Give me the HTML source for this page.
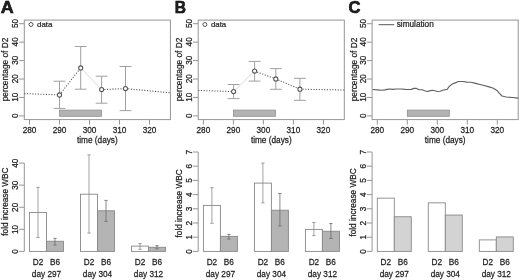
<!DOCTYPE html>
<html><head><meta charset="utf-8"><style>
html,body{margin:0;padding:0;background:#fff;}
body{width:520px;height:280px;overflow:hidden;}
svg{display:block;will-change:transform;}
text{font-family:"Liberation Sans",sans-serif;font-size:8.25px;fill:#222;stroke:#222;stroke-width:0.22px;}
</style></head><body>
<svg width="520" height="280" viewBox="0 0 520 280">
<rect width="520" height="280" fill="#fff"/>
<rect x="24.3" y="20.1" width="146.1" height="99.5" fill="none" stroke="#959595" stroke-width="1"/>
<line x1="29.5" y1="119.6" x2="29.5" y2="124.6" stroke="#959595"/>
<text transform="translate(29.5 132.9) scale(1 1.15)" text-anchor="middle">280</text>
<line x1="59.5" y1="119.6" x2="59.5" y2="124.6" stroke="#959595"/>
<text transform="translate(59.5 132.9) scale(1 1.15)" text-anchor="middle">290</text>
<line x1="89.5" y1="119.6" x2="89.5" y2="124.6" stroke="#959595"/>
<text transform="translate(89.5 132.9) scale(1 1.15)" text-anchor="middle">300</text>
<line x1="119.5" y1="119.6" x2="119.5" y2="124.6" stroke="#959595"/>
<text transform="translate(119.5 132.9) scale(1 1.15)" text-anchor="middle">310</text>
<line x1="149.5" y1="119.6" x2="149.5" y2="124.6" stroke="#959595"/>
<text transform="translate(149.5 132.9) scale(1 1.15)" text-anchor="middle">320</text>
<line x1="24.3" y1="115.9" x2="19.1" y2="115.9" stroke="#959595"/>
<text transform="translate(17.8 115.6) rotate(-90) scale(1 1.19)" text-anchor="middle">0</text>
<line x1="24.3" y1="97.46" x2="19.1" y2="97.46" stroke="#959595"/>
<text transform="translate(17.8 97.16) rotate(-90) scale(1 1.19)" text-anchor="middle">10</text>
<line x1="24.3" y1="79.02" x2="19.1" y2="79.02" stroke="#959595"/>
<text transform="translate(17.8 78.72) rotate(-90) scale(1 1.19)" text-anchor="middle">20</text>
<line x1="24.3" y1="60.58" x2="19.1" y2="60.58" stroke="#959595"/>
<text transform="translate(17.8 60.28) rotate(-90) scale(1 1.19)" text-anchor="middle">30</text>
<line x1="24.3" y1="42.14" x2="19.1" y2="42.14" stroke="#959595"/>
<text transform="translate(17.8 41.84) rotate(-90) scale(1 1.19)" text-anchor="middle">40</text>
<line x1="24.3" y1="23.7" x2="19.1" y2="23.7" stroke="#959595"/>
<text transform="translate(17.8 23.4) rotate(-90) scale(1 1.19)" text-anchor="middle">50</text>
<text transform="translate(7.5 69.5) rotate(-90) scale(1 1.19)" text-anchor="middle" style="font-size:8.3px">percentage of D2</text>
<text transform="translate(97.35 143.1) scale(1 1.15)" text-anchor="middle">time (days)</text>
<text transform="translate(0.8 12.7) scale(1.08 1)" style="font-weight:bold;font-size:16.6px;stroke:#000;stroke-width:0.55px">A</text>
<rect x="59.5" y="110.1" width="42" height="6.2" fill="#b3b3b3" stroke="#8f8f8f" stroke-width="0.8"/>
<line x1="59.5" y1="81.2" x2="59.5" y2="108.4" stroke="#a0a0a0" stroke-width="1"/>
<line x1="53.6" y1="81.2" x2="65.4" y2="81.2" stroke="#a0a0a0" stroke-width="1"/>
<line x1="53.6" y1="108.4" x2="65.4" y2="108.4" stroke="#a0a0a0" stroke-width="1"/>
<line x1="80.7" y1="46.5" x2="80.7" y2="89.2" stroke="#a0a0a0" stroke-width="1"/>
<line x1="74.8" y1="46.5" x2="86.6" y2="46.5" stroke="#a0a0a0" stroke-width="1"/>
<line x1="74.8" y1="89.2" x2="86.6" y2="89.2" stroke="#a0a0a0" stroke-width="1"/>
<line x1="101.6" y1="76.2" x2="101.6" y2="103.2" stroke="#a0a0a0" stroke-width="1"/>
<line x1="95.7" y1="76.2" x2="107.5" y2="76.2" stroke="#a0a0a0" stroke-width="1"/>
<line x1="95.7" y1="103.2" x2="107.5" y2="103.2" stroke="#a0a0a0" stroke-width="1"/>
<line x1="125.5" y1="66.5" x2="125.5" y2="110.6" stroke="#a0a0a0" stroke-width="1"/>
<line x1="119.6" y1="66.5" x2="131.4" y2="66.5" stroke="#a0a0a0" stroke-width="1"/>
<line x1="119.6" y1="110.6" x2="131.4" y2="110.6" stroke="#a0a0a0" stroke-width="1"/>
<line x1="24.3" y1="93.6" x2="59.5" y2="94.9" stroke="#525252" stroke-width="1.05" stroke-dasharray="1.1 1.6"/>
<line x1="59.5" y1="94.9" x2="80.7" y2="67.9" stroke="#525252" stroke-width="1.05" stroke-dasharray="1.1 1.6"/>
<line x1="80.7" y1="67.9" x2="101.6" y2="89.6" stroke="#dadada" stroke-width="1"/>
<line x1="101.6" y1="89.6" x2="125.5" y2="88.6" stroke="#525252" stroke-width="1.05" stroke-dasharray="1.1 1.6"/>
<line x1="125.5" y1="88.6" x2="170.4" y2="92.8" stroke="#525252" stroke-width="1.05" stroke-dasharray="1.1 1.6"/>
<circle cx="59.5" cy="94.9" r="2.05" fill="#fff" stroke="#555" stroke-width="1.05"/>
<circle cx="80.7" cy="67.9" r="2.05" fill="#fff" stroke="#555" stroke-width="1.05"/>
<circle cx="101.6" cy="89.6" r="2.05" fill="#fff" stroke="#555" stroke-width="1.05"/>
<circle cx="125.5" cy="88.6" r="2.05" fill="#fff" stroke="#555" stroke-width="1.05"/>
<circle cx="31" cy="24.5" r="2.0" fill="none" stroke="#555" stroke-width="1"/>
<text transform="translate(37 27.1) scale(1 0.97)" text-anchor="start" style="font-size:7.9px">data</text>
<rect x="198.2" y="20.1" width="146.1" height="99.5" fill="none" stroke="#959595" stroke-width="1"/>
<line x1="203.4" y1="119.6" x2="203.4" y2="124.6" stroke="#959595"/>
<text transform="translate(203.4 132.9) scale(1 1.15)" text-anchor="middle">280</text>
<line x1="233.4" y1="119.6" x2="233.4" y2="124.6" stroke="#959595"/>
<text transform="translate(233.4 132.9) scale(1 1.15)" text-anchor="middle">290</text>
<line x1="263.4" y1="119.6" x2="263.4" y2="124.6" stroke="#959595"/>
<text transform="translate(263.4 132.9) scale(1 1.15)" text-anchor="middle">300</text>
<line x1="293.4" y1="119.6" x2="293.4" y2="124.6" stroke="#959595"/>
<text transform="translate(293.4 132.9) scale(1 1.15)" text-anchor="middle">310</text>
<line x1="323.4" y1="119.6" x2="323.4" y2="124.6" stroke="#959595"/>
<text transform="translate(323.4 132.9) scale(1 1.15)" text-anchor="middle">320</text>
<line x1="198.2" y1="115.9" x2="193" y2="115.9" stroke="#959595"/>
<text transform="translate(191.7 115.6) rotate(-90) scale(1 1.19)" text-anchor="middle">0</text>
<line x1="198.2" y1="97.46" x2="193" y2="97.46" stroke="#959595"/>
<text transform="translate(191.7 97.16) rotate(-90) scale(1 1.19)" text-anchor="middle">10</text>
<line x1="198.2" y1="79.02" x2="193" y2="79.02" stroke="#959595"/>
<text transform="translate(191.7 78.72) rotate(-90) scale(1 1.19)" text-anchor="middle">20</text>
<line x1="198.2" y1="60.58" x2="193" y2="60.58" stroke="#959595"/>
<text transform="translate(191.7 60.28) rotate(-90) scale(1 1.19)" text-anchor="middle">30</text>
<line x1="198.2" y1="42.14" x2="193" y2="42.14" stroke="#959595"/>
<text transform="translate(191.7 41.84) rotate(-90) scale(1 1.19)" text-anchor="middle">40</text>
<line x1="198.2" y1="23.7" x2="193" y2="23.7" stroke="#959595"/>
<text transform="translate(191.7 23.4) rotate(-90) scale(1 1.19)" text-anchor="middle">50</text>
<text transform="translate(182.4 69.5) rotate(-90) scale(1 1.19)" text-anchor="middle" style="font-size:8.3px">percentage of D2</text>
<text transform="translate(271.25 143.1) scale(1 1.15)" text-anchor="middle">time (days)</text>
<text transform="translate(174.8 12.7) scale(0.94 1)" style="font-weight:bold;font-size:16.6px;stroke:#000;stroke-width:0.55px">B</text>
<rect x="233.4" y="110.1" width="42" height="6.2" fill="#b3b3b3" stroke="#8f8f8f" stroke-width="0.8"/>
<line x1="233.6" y1="84.5" x2="233.6" y2="98.6" stroke="#a0a0a0" stroke-width="1"/>
<line x1="227.7" y1="84.5" x2="239.5" y2="84.5" stroke="#a0a0a0" stroke-width="1"/>
<line x1="227.7" y1="98.6" x2="239.5" y2="98.6" stroke="#a0a0a0" stroke-width="1"/>
<line x1="254.6" y1="61.4" x2="254.6" y2="81.1" stroke="#a0a0a0" stroke-width="1"/>
<line x1="248.7" y1="61.4" x2="260.5" y2="61.4" stroke="#a0a0a0" stroke-width="1"/>
<line x1="248.7" y1="81.1" x2="260.5" y2="81.1" stroke="#a0a0a0" stroke-width="1"/>
<line x1="275.8" y1="68.6" x2="275.8" y2="89.3" stroke="#a0a0a0" stroke-width="1"/>
<line x1="269.9" y1="68.6" x2="281.7" y2="68.6" stroke="#a0a0a0" stroke-width="1"/>
<line x1="269.9" y1="89.3" x2="281.7" y2="89.3" stroke="#a0a0a0" stroke-width="1"/>
<line x1="299.9" y1="78.3" x2="299.9" y2="100.3" stroke="#a0a0a0" stroke-width="1"/>
<line x1="294" y1="78.3" x2="305.8" y2="78.3" stroke="#a0a0a0" stroke-width="1"/>
<line x1="294" y1="100.3" x2="305.8" y2="100.3" stroke="#a0a0a0" stroke-width="1"/>
<line x1="198.2" y1="90.4" x2="233.6" y2="91.6" stroke="#525252" stroke-width="1.05" stroke-dasharray="1.1 1.6"/>
<line x1="233.6" y1="91.6" x2="254.6" y2="71.1" stroke="#dadada" stroke-width="1"/>
<line x1="254.6" y1="71.1" x2="275.8" y2="78.9" stroke="#525252" stroke-width="1.05" stroke-dasharray="1.1 1.6"/>
<line x1="275.8" y1="78.9" x2="299.9" y2="89.2" stroke="#525252" stroke-width="1.05" stroke-dasharray="1.1 1.6"/>
<line x1="299.9" y1="89.2" x2="344.3" y2="90" stroke="#525252" stroke-width="1.05" stroke-dasharray="1.1 1.6"/>
<circle cx="233.6" cy="91.6" r="2.05" fill="#fff" stroke="#555" stroke-width="1.05"/>
<circle cx="254.6" cy="71.1" r="2.05" fill="#fff" stroke="#555" stroke-width="1.05"/>
<circle cx="275.8" cy="78.9" r="2.05" fill="#fff" stroke="#555" stroke-width="1.05"/>
<circle cx="299.9" cy="89.2" r="2.05" fill="#fff" stroke="#555" stroke-width="1.05"/>
<circle cx="204.9" cy="24.5" r="2.0" fill="none" stroke="#555" stroke-width="1"/>
<text transform="translate(210.9 27.1) scale(1 0.97)" text-anchor="start" style="font-size:7.9px">data</text>
<rect x="372.1" y="20.1" width="146.1" height="99.5" fill="none" stroke="#959595" stroke-width="1"/>
<line x1="377.3" y1="119.6" x2="377.3" y2="124.6" stroke="#959595"/>
<text transform="translate(377.3 132.9) scale(1 1.15)" text-anchor="middle">280</text>
<line x1="407.3" y1="119.6" x2="407.3" y2="124.6" stroke="#959595"/>
<text transform="translate(407.3 132.9) scale(1 1.15)" text-anchor="middle">290</text>
<line x1="437.3" y1="119.6" x2="437.3" y2="124.6" stroke="#959595"/>
<text transform="translate(437.3 132.9) scale(1 1.15)" text-anchor="middle">300</text>
<line x1="467.3" y1="119.6" x2="467.3" y2="124.6" stroke="#959595"/>
<text transform="translate(467.3 132.9) scale(1 1.15)" text-anchor="middle">310</text>
<line x1="497.3" y1="119.6" x2="497.3" y2="124.6" stroke="#959595"/>
<text transform="translate(497.3 132.9) scale(1 1.15)" text-anchor="middle">320</text>
<line x1="372.1" y1="115.9" x2="366.9" y2="115.9" stroke="#959595"/>
<text transform="translate(365.6 115.6) rotate(-90) scale(1 1.19)" text-anchor="middle">0</text>
<line x1="372.1" y1="97.46" x2="366.9" y2="97.46" stroke="#959595"/>
<text transform="translate(365.6 97.16) rotate(-90) scale(1 1.19)" text-anchor="middle">10</text>
<line x1="372.1" y1="79.02" x2="366.9" y2="79.02" stroke="#959595"/>
<text transform="translate(365.6 78.72) rotate(-90) scale(1 1.19)" text-anchor="middle">20</text>
<line x1="372.1" y1="60.58" x2="366.9" y2="60.58" stroke="#959595"/>
<text transform="translate(365.6 60.28) rotate(-90) scale(1 1.19)" text-anchor="middle">30</text>
<line x1="372.1" y1="42.14" x2="366.9" y2="42.14" stroke="#959595"/>
<text transform="translate(365.6 41.84) rotate(-90) scale(1 1.19)" text-anchor="middle">40</text>
<line x1="372.1" y1="23.7" x2="366.9" y2="23.7" stroke="#959595"/>
<text transform="translate(365.6 23.4) rotate(-90) scale(1 1.19)" text-anchor="middle">50</text>
<text transform="translate(356.5 69.5) rotate(-90) scale(1 1.19)" text-anchor="middle" style="font-size:8.3px">percentage of D2</text>
<text transform="translate(445.15 143.1) scale(1 1.15)" text-anchor="middle">time (days)</text>
<text transform="translate(348.4 12.7) scale(1.0 1)" style="font-weight:bold;font-size:16.6px;stroke:#000;stroke-width:0.55px">C</text>
<rect x="407.3" y="110.1" width="42" height="6.2" fill="#b3b3b3" stroke="#8f8f8f" stroke-width="0.8"/>
<polyline fill="none" stroke="#606060" stroke-width="1.15" stroke-linejoin="round" points="372.6,89.5 377.7,89.9 381.5,90.3 385,89.9 386.9,89.4 390,89 393.1,89.4 396.2,89 400.8,89 405.4,89.4 407.7,89.5 411.5,89.4 413.8,88.4 416.5,88.4 419.2,89.7 422.3,89.7 424.6,90.7 427.3,91.5 429.6,90.9 432.3,90.2 434.6,90.7 437.7,91.5 440,91.3 443.8,90 447.3,89.2 449.2,86.5 451.5,84.6 454.6,83.1 458.5,81.5 463.1,81.5 466.9,82.1 470.8,82.3 474.6,83.1 480,84.5 483.1,85.3 488.3,86.6 493.4,88.3 496.9,90.4 499.4,93.4 502,96 506.3,97 512.3,97.5 518.2,98.1"/>
<line x1="378.7" y1="24.7" x2="394.2" y2="24.7" stroke="#555" stroke-width="1"/>
<text transform="translate(396.7 26.9) scale(1 1.05)" text-anchor="start">simulation</text>
<line x1="24.3" y1="251.4" x2="24.3" y2="163.08" stroke="#959595"/>
<line x1="24.3" y1="251.4" x2="19" y2="251.4" stroke="#959595"/>
<text transform="translate(17.8 251.5) rotate(-90) scale(1 1.19)" text-anchor="middle">0</text>
<line x1="24.3" y1="229.32" x2="19" y2="229.32" stroke="#959595"/>
<text transform="translate(17.8 229.42) rotate(-90) scale(1 1.19)" text-anchor="middle">10</text>
<line x1="24.3" y1="207.24" x2="19" y2="207.24" stroke="#959595"/>
<text transform="translate(17.8 207.34) rotate(-90) scale(1 1.19)" text-anchor="middle">20</text>
<line x1="24.3" y1="185.16" x2="19" y2="185.16" stroke="#959595"/>
<text transform="translate(17.8 185.26) rotate(-90) scale(1 1.19)" text-anchor="middle">30</text>
<line x1="24.3" y1="163.08" x2="19" y2="163.08" stroke="#959595"/>
<text transform="translate(17.8 163.18) rotate(-90) scale(1 1.19)" text-anchor="middle">40</text>
<text transform="translate(8 201.6) rotate(-90) scale(1 1.19)" text-anchor="middle">fold increase WBC</text>
<rect x="29.5" y="212.54" width="17" height="38.86" fill="#ffffff" stroke="#888" stroke-width="0.9"/>
<rect x="46.5" y="241.24" width="17" height="10.16" fill="#b4b4b4" stroke="#888" stroke-width="0.9"/>
<text transform="translate(38 264.7) scale(1 1.15)" text-anchor="middle">D2</text>
<text transform="translate(55 264.7) scale(1 1.15)" text-anchor="middle">B6</text>
<text transform="translate(46.5 276.9) scale(1 1.15)" text-anchor="middle">day 297</text>
<rect x="80.5" y="194.21" width="17" height="57.19" fill="#ffffff" stroke="#888" stroke-width="0.9"/>
<rect x="97.5" y="210.77" width="17" height="40.63" fill="#b4b4b4" stroke="#888" stroke-width="0.9"/>
<text transform="translate(89 264.7) scale(1 1.15)" text-anchor="middle">D2</text>
<text transform="translate(106 264.7) scale(1 1.15)" text-anchor="middle">B6</text>
<text transform="translate(97.5 276.9) scale(1 1.15)" text-anchor="middle">day 304</text>
<rect x="131.5" y="246.1" width="17" height="5.3" fill="#ffffff" stroke="#888" stroke-width="0.9"/>
<rect x="148.5" y="247.29" width="17" height="4.11" fill="#b4b4b4" stroke="#888" stroke-width="0.9"/>
<text transform="translate(140 264.7) scale(1 1.15)" text-anchor="middle">D2</text>
<text transform="translate(157 264.7) scale(1 1.15)" text-anchor="middle">B6</text>
<text transform="translate(148.5 276.9) scale(1 1.15)" text-anchor="middle">day 312</text>
<line x1="38" y1="187.37" x2="38" y2="237.49" stroke="#8c8c8c" stroke-width="0.8"/>
<line x1="36.3" y1="187.37" x2="39.7" y2="187.37" stroke="#8c8c8c" stroke-width="0.8"/>
<line x1="36.3" y1="237.49" x2="39.7" y2="237.49" stroke="#8c8c8c" stroke-width="0.8"/>
<line x1="55" y1="238.37" x2="55" y2="245" stroke="#6c6c6c" stroke-width="0.8"/>
<line x1="53.3" y1="238.37" x2="56.7" y2="238.37" stroke="#6c6c6c" stroke-width="0.8"/>
<line x1="53.3" y1="245" x2="56.7" y2="245" stroke="#6c6c6c" stroke-width="0.8"/>
<line x1="89" y1="154.91" x2="89" y2="233.07" stroke="#8c8c8c" stroke-width="0.8"/>
<line x1="87.3" y1="154.91" x2="90.7" y2="154.91" stroke="#8c8c8c" stroke-width="0.8"/>
<line x1="87.3" y1="233.07" x2="90.7" y2="233.07" stroke="#8c8c8c" stroke-width="0.8"/>
<line x1="106" y1="200.4" x2="106" y2="221.37" stroke="#6c6c6c" stroke-width="0.8"/>
<line x1="104.3" y1="200.4" x2="107.7" y2="200.4" stroke="#6c6c6c" stroke-width="0.8"/>
<line x1="104.3" y1="221.37" x2="107.7" y2="221.37" stroke="#6c6c6c" stroke-width="0.8"/>
<line x1="140" y1="243.45" x2="140" y2="249.3" stroke="#8c8c8c" stroke-width="0.8"/>
<line x1="138.3" y1="243.45" x2="141.7" y2="243.45" stroke="#8c8c8c" stroke-width="0.8"/>
<line x1="138.3" y1="249.3" x2="141.7" y2="249.3" stroke="#8c8c8c" stroke-width="0.8"/>
<line x1="157" y1="245.66" x2="157" y2="248.75" stroke="#6c6c6c" stroke-width="0.8"/>
<line x1="155.3" y1="245.66" x2="158.7" y2="245.66" stroke="#6c6c6c" stroke-width="0.8"/>
<line x1="155.3" y1="248.75" x2="158.7" y2="248.75" stroke="#6c6c6c" stroke-width="0.8"/>
<line x1="198.2" y1="251.4" x2="198.2" y2="152" stroke="#959595"/>
<line x1="198.2" y1="251.4" x2="192.9" y2="251.4" stroke="#959595"/>
<text transform="translate(191.7 251.5) rotate(-90) scale(1 1.19)" text-anchor="middle">0</text>
<line x1="198.2" y1="237.2" x2="192.9" y2="237.2" stroke="#959595"/>
<text transform="translate(191.7 237.3) rotate(-90) scale(1 1.19)" text-anchor="middle">1</text>
<line x1="198.2" y1="223" x2="192.9" y2="223" stroke="#959595"/>
<text transform="translate(191.7 223.1) rotate(-90) scale(1 1.19)" text-anchor="middle">2</text>
<line x1="198.2" y1="208.8" x2="192.9" y2="208.8" stroke="#959595"/>
<text transform="translate(191.7 208.9) rotate(-90) scale(1 1.19)" text-anchor="middle">3</text>
<line x1="198.2" y1="194.6" x2="192.9" y2="194.6" stroke="#959595"/>
<text transform="translate(191.7 194.7) rotate(-90) scale(1 1.19)" text-anchor="middle">4</text>
<line x1="198.2" y1="180.4" x2="192.9" y2="180.4" stroke="#959595"/>
<text transform="translate(191.7 180.5) rotate(-90) scale(1 1.19)" text-anchor="middle">5</text>
<line x1="198.2" y1="166.2" x2="192.9" y2="166.2" stroke="#959595"/>
<text transform="translate(191.7 166.3) rotate(-90) scale(1 1.19)" text-anchor="middle">6</text>
<line x1="198.2" y1="152" x2="192.9" y2="152" stroke="#959595"/>
<text transform="translate(191.7 152.1) rotate(-90) scale(1 1.19)" text-anchor="middle">7</text>
<text transform="translate(182.1 203.4) rotate(-90) scale(1 1.19)" text-anchor="middle">fold increase WBC</text>
<rect x="203.4" y="205.39" width="17" height="46.01" fill="#ffffff" stroke="#888" stroke-width="0.9"/>
<rect x="220.4" y="236.35" width="17" height="15.05" fill="#b4b4b4" stroke="#888" stroke-width="0.9"/>
<text transform="translate(211.9 264.7) scale(1 1.15)" text-anchor="middle">D2</text>
<text transform="translate(228.9 264.7) scale(1 1.15)" text-anchor="middle">B6</text>
<text transform="translate(220.4 276.9) scale(1 1.15)" text-anchor="middle">day 297</text>
<rect x="254.4" y="183.1" width="17" height="68.3" fill="#ffffff" stroke="#888" stroke-width="0.9"/>
<rect x="271.4" y="210.22" width="17" height="41.18" fill="#b4b4b4" stroke="#888" stroke-width="0.9"/>
<text transform="translate(262.9 264.7) scale(1 1.15)" text-anchor="middle">D2</text>
<text transform="translate(279.9 264.7) scale(1 1.15)" text-anchor="middle">B6</text>
<text transform="translate(271.4 276.9) scale(1 1.15)" text-anchor="middle">day 304</text>
<rect x="305.4" y="229.39" width="17" height="22.01" fill="#ffffff" stroke="#888" stroke-width="0.9"/>
<rect x="322.4" y="231.24" width="17" height="20.16" fill="#b4b4b4" stroke="#888" stroke-width="0.9"/>
<text transform="translate(313.9 264.7) scale(1 1.15)" text-anchor="middle">D2</text>
<text transform="translate(330.9 264.7) scale(1 1.15)" text-anchor="middle">B6</text>
<text transform="translate(322.4 276.9) scale(1 1.15)" text-anchor="middle">day 312</text>
<line x1="211.9" y1="187.64" x2="211.9" y2="223.28" stroke="#8c8c8c" stroke-width="0.8"/>
<line x1="210.2" y1="187.64" x2="213.6" y2="187.64" stroke="#8c8c8c" stroke-width="0.8"/>
<line x1="210.2" y1="223.28" x2="213.6" y2="223.28" stroke="#8c8c8c" stroke-width="0.8"/>
<line x1="228.9" y1="234.36" x2="228.9" y2="239.05" stroke="#6c6c6c" stroke-width="0.8"/>
<line x1="227.2" y1="234.36" x2="230.6" y2="234.36" stroke="#6c6c6c" stroke-width="0.8"/>
<line x1="227.2" y1="239.05" x2="230.6" y2="239.05" stroke="#6c6c6c" stroke-width="0.8"/>
<line x1="262.9" y1="163.08" x2="262.9" y2="202.84" stroke="#8c8c8c" stroke-width="0.8"/>
<line x1="261.2" y1="163.08" x2="264.6" y2="163.08" stroke="#8c8c8c" stroke-width="0.8"/>
<line x1="261.2" y1="202.84" x2="264.6" y2="202.84" stroke="#8c8c8c" stroke-width="0.8"/>
<line x1="279.9" y1="193.46" x2="279.9" y2="225.98" stroke="#6c6c6c" stroke-width="0.8"/>
<line x1="278.2" y1="193.46" x2="281.6" y2="193.46" stroke="#6c6c6c" stroke-width="0.8"/>
<line x1="278.2" y1="225.98" x2="281.6" y2="225.98" stroke="#6c6c6c" stroke-width="0.8"/>
<line x1="313.9" y1="222.43" x2="313.9" y2="235.64" stroke="#8c8c8c" stroke-width="0.8"/>
<line x1="312.2" y1="222.43" x2="315.6" y2="222.43" stroke="#8c8c8c" stroke-width="0.8"/>
<line x1="312.2" y1="235.64" x2="315.6" y2="235.64" stroke="#8c8c8c" stroke-width="0.8"/>
<line x1="330.9" y1="223.57" x2="330.9" y2="238.48" stroke="#6c6c6c" stroke-width="0.8"/>
<line x1="329.2" y1="223.57" x2="332.6" y2="223.57" stroke="#6c6c6c" stroke-width="0.8"/>
<line x1="329.2" y1="238.48" x2="332.6" y2="238.48" stroke="#6c6c6c" stroke-width="0.8"/>
<line x1="372.1" y1="251.4" x2="372.1" y2="152" stroke="#959595"/>
<line x1="372.1" y1="251.4" x2="366.8" y2="251.4" stroke="#959595"/>
<text transform="translate(365.6 251.5) rotate(-90) scale(1 1.19)" text-anchor="middle">0</text>
<line x1="372.1" y1="237.2" x2="366.8" y2="237.2" stroke="#959595"/>
<text transform="translate(365.6 237.3) rotate(-90) scale(1 1.19)" text-anchor="middle">1</text>
<line x1="372.1" y1="223" x2="366.8" y2="223" stroke="#959595"/>
<text transform="translate(365.6 223.1) rotate(-90) scale(1 1.19)" text-anchor="middle">2</text>
<line x1="372.1" y1="208.8" x2="366.8" y2="208.8" stroke="#959595"/>
<text transform="translate(365.6 208.9) rotate(-90) scale(1 1.19)" text-anchor="middle">3</text>
<line x1="372.1" y1="194.6" x2="366.8" y2="194.6" stroke="#959595"/>
<text transform="translate(365.6 194.7) rotate(-90) scale(1 1.19)" text-anchor="middle">4</text>
<line x1="372.1" y1="180.4" x2="366.8" y2="180.4" stroke="#959595"/>
<text transform="translate(365.6 180.5) rotate(-90) scale(1 1.19)" text-anchor="middle">5</text>
<line x1="372.1" y1="166.2" x2="366.8" y2="166.2" stroke="#959595"/>
<text transform="translate(365.6 166.3) rotate(-90) scale(1 1.19)" text-anchor="middle">6</text>
<line x1="372.1" y1="152" x2="366.8" y2="152" stroke="#959595"/>
<text transform="translate(365.6 152.1) rotate(-90) scale(1 1.19)" text-anchor="middle">7</text>
<text transform="translate(356.4 202.5) rotate(-90) scale(1 1.19)" text-anchor="middle">fold increase WBC</text>
<rect x="377.3" y="198.15" width="17" height="53.25" fill="#ffffff" stroke="#888" stroke-width="0.9"/>
<rect x="394.3" y="216.75" width="17" height="34.65" fill="#d3d3d3" stroke="#888" stroke-width="0.9"/>
<text transform="translate(385.8 264.7) scale(1 1.15)" text-anchor="middle">D2</text>
<text transform="translate(402.8 264.7) scale(1 1.15)" text-anchor="middle">B6</text>
<text transform="translate(394.3 276.9) scale(1 1.15)" text-anchor="middle">day 297</text>
<rect x="428.3" y="202.84" width="17" height="48.56" fill="#ffffff" stroke="#888" stroke-width="0.9"/>
<rect x="445.3" y="215.05" width="17" height="36.35" fill="#d3d3d3" stroke="#888" stroke-width="0.9"/>
<text transform="translate(436.8 264.7) scale(1 1.15)" text-anchor="middle">D2</text>
<text transform="translate(453.8 264.7) scale(1 1.15)" text-anchor="middle">B6</text>
<text transform="translate(445.3 276.9) scale(1 1.15)" text-anchor="middle">day 304</text>
<rect x="479.3" y="239.9" width="17" height="11.5" fill="#ffffff" stroke="#888" stroke-width="0.9"/>
<rect x="496.3" y="236.92" width="17" height="14.48" fill="#d3d3d3" stroke="#888" stroke-width="0.9"/>
<text transform="translate(487.8 264.7) scale(1 1.15)" text-anchor="middle">D2</text>
<text transform="translate(504.8 264.7) scale(1 1.15)" text-anchor="middle">B6</text>
<text transform="translate(496.3 276.9) scale(1 1.15)" text-anchor="middle">day 312</text>
</svg>
</body></html>
